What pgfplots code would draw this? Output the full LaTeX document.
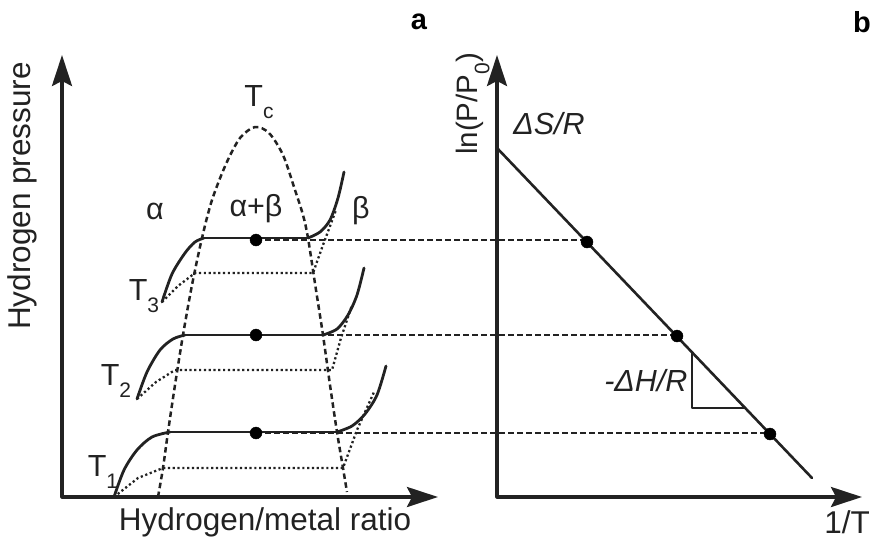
\documentclass[border=0pt]{standalone}
\usepackage{pgfplots}
\pgfplotsset{compat=1.18}
\usetikzlibrary{arrows.meta}
\usepackage{fontspec}
\setmainfont{Liberation Sans}
\definecolor{ink}{HTML}{222222}
\newcommand{\sub}[1]{\raisebox{-0.4em}{\fontsize{21}{21}\selectfont #1}}
\begin{document}
\begin{tikzpicture}
\begin{axis}[
  at={(0,0)}, anchor=south west,
  scale only axis, width=876pt, height=542pt,
  xmin=0, xmax=876, ymin=0, ymax=542, y dir=reverse,
  hide axis, clip=false,
  every axis plot/.append style={ink, line cap=round, line join=round},
]
% --- panel a axes
\addplot[line width=3.2pt, {Stealth[length=31pt,width=20pt,inset=5pt]}-{Stealth[length=31pt,width=20pt,inset=5pt]}, line cap=butt]
  coordinates {(62,55) (62,497) (438,497)};
% --- panel b axes
\addplot[line width=3.2pt, {Stealth[length=31pt,width=20pt,inset=5pt]}-{Stealth[length=31pt,width=20pt,inset=5pt]}, line cap=butt]
  coordinates {(497,55) (497,497) (862,497)};
% --- dome (dashed)
\addplot[line width=2.5pt, dash pattern=on 5.5pt off 3.5pt, smooth, tension=0.5, line cap=butt]
  coordinates {(158,497) (163,468) (168,432) (175,385) (183,335) (192,285) (202,238) (212,200) (226,164) (240,138) (255,127) (269,133) (283,155) (295,190) (303,215) (308,238) (316,290) (323,335) (330,385) (337,432) (343,468) (347,492)};
% --- tie lines to panel b (dashed)
\addplot[line width=2.5pt, dash pattern=on 5.5pt off 3.5pt, line cap=butt] coordinates {(256,240) (587,240)};
\addplot[line width=2.5pt, dash pattern=on 5.5pt off 3.5pt, line cap=butt] coordinates {(256,335) (677,335)};
\addplot[line width=2.5pt, dash pattern=on 5.5pt off 3.5pt, line cap=butt] coordinates {(256,433) (770,433)};
% --- dotted isotherms
\addplot[line width=2.3pt, dash pattern=on 2.2pt off 2.6pt, line cap=butt] coordinates {(162,302) (178,286) (195,273) (313,273) (323,245) (336,210)};
\addplot[line width=2.3pt, dash pattern=on 2.2pt off 2.6pt, line cap=butt] coordinates {(137,399) (156,382) (175,370) (332,370) (341,338) (352,305)};
\addplot[line width=2.3pt, dash pattern=on 2.2pt off 2.6pt, line cap=butt] coordinates {(114,497) (138,478) (163,468) (343,468) (357,430) (374,392)};
% --- solid isotherms T3
\addplot[line width=2.8pt, smooth] coordinates {(162,302) (172,274) (185,253) (195,242) (204,238)};
\addplot[line width=2.8pt] coordinates {(204,238) (308,238)};
\addplot[line width=2.8pt, smooth] coordinates {(308,238) (320,232) (330,220) (338,198) (344,172)};
% T2
\addplot[line width=2.8pt, smooth] coordinates {(137,399) (147,372) (160,350) (173,339) (185,335)};
\addplot[line width=2.8pt] coordinates {(185,335) (323,335)};
\addplot[line width=2.8pt, smooth] coordinates {(323,335) (337,329) (348,315) (357,295) (364,268)};
% T1
\addplot[line width=2.8pt, smooth] coordinates {(114,497) (124,470) (137,450) (152,437) (170,432)};
\addplot[line width=2.8pt] coordinates {(170,432) (337,432)};
\addplot[line width=2.8pt, smooth] coordinates {(337,432) (352,426) (365,414) (377,395) (386,366)};
% --- dots in panel a
\addplot[only marks, mark=*, mark size=6pt, mark options={fill=black, draw=black}] coordinates {(256,240) (256,335) (256,433)};
% --- panel b line
\addplot[line width=2.6pt] coordinates {(497,148) (812,478)};
\addplot[line width=1.2pt, line cap=butt] coordinates {(692,352) (692,408) (745,408)};
\addplot[only marks, mark=*, mark size=6pt, mark options={fill=black, draw=black}] coordinates {(587,242) (677,336) (770,434)};
% --- texts
\node[rotate=90, font=\fontsize{31.5}{31.5}\selectfont, text=ink] at (axis cs:22,196) {Hydrogen pressure};
\node[font=\fontsize{31.5}{31.5}\selectfont, text=ink] at (axis cs:265,522) {Hydrogen/metal ratio};
\node[font=\fontsize{31.5}{31.5}\selectfont, text=ink] at (axis cs:847,522) {1/T};
\node[rotate=90, font=\fontsize{29.5}{29.5}\selectfont, text=ink] at (axis cs:473,104) {ln(P/P\sub{0})};
\node[font=\fontsize{29}{29}\selectfont\bfseries] at (axis cs:419,22) {a};
\node[font=\fontsize{29}{29}\selectfont\bfseries] at (axis cs:862,22) {b};
\node[font=\fontsize{30.5}{30.5}\selectfont\itshape, text=ink] at (axis cs:549,124) {ΔS/R};
\node[font=\fontsize{30.5}{30.5}\selectfont\itshape, text=ink, anchor=east] at (axis cs:691,381) {-ΔH/R};
\node[font=\fontsize{30.5}{30.5}\selectfont, text=ink] at (axis cs:155,211) {α};
\node[font=\fontsize{30.5}{30.5}\selectfont, text=ink] at (axis cs:256,209) {α+β};
\node[font=\fontsize{30.5}{30.5}\selectfont, text=ink] at (axis cs:361,211) {β};
\node[font=\fontsize{30.5}{30.5}\selectfont, text=ink] at (axis cs:259,102) {T\sub{c}};
\node[font=\fontsize{30.5}{30.5}\selectfont, text=ink] at (axis cs:144,296) {T\sub{3}};
\node[font=\fontsize{30.5}{30.5}\selectfont, text=ink] at (axis cs:116,381) {T\sub{2}};
\node[font=\fontsize{30.5}{30.5}\selectfont, text=ink] at (axis cs:103,472) {T\sub{1}};
\end{axis}
\pgfresetboundingbox
\path (0,0) rectangle (876pt,542pt);
\end{tikzpicture}
\end{document}
